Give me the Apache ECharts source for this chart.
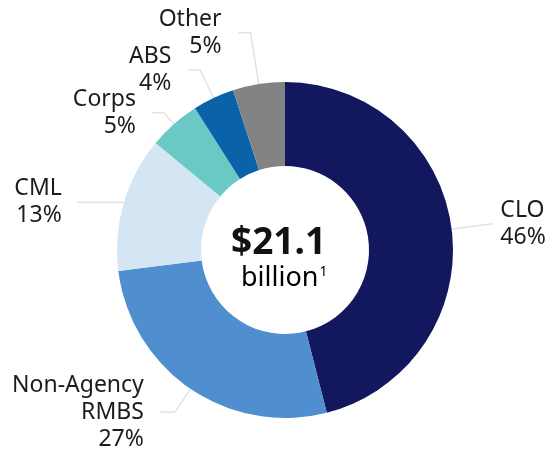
<!DOCTYPE html>
<html>
<head>
<meta charset="utf-8">
<script src="https://cdn.jsdelivr.net/npm/echarts@6/dist/echarts.min.js"></script>
<style>
  html, body { margin: 0; padding: 0; background: #fff; }
  #main { width: 553px; height: 451px; }
</style>
</head>
<body>
<div id="main"></div>
<script>
// 数据
var categories = ['CLO', 'Non-Agency\nRMBS', 'CML', 'Corps', 'ABS', 'Other'];
var values = [46, 27, 13, 5, 4, 5];
var colors = ['#12175e', '#4f8fd0', '#d4e6f4', '#6bc9c5', '#0a63a9', '#838383'];
// 引导线长度 [length, length2]
var lineLens = [[39, 3], [28, 15], [3, 44], [15, 12], [31, 12], [52, 12]];
var labelGaps = [7, 16, 15, 16, 17, 17];

var chart = echarts.init(document.getElementById('main'));

var seriesData = [];
for (var i = 0; i < categories.length; i++) {
    seriesData.push({
        name: categories[i],
        value: values[i],
        itemStyle: { color: colors[i] },
        labelLine: { length: lineLens[i][0], length2: lineLens[i][1] },
        label: { distanceToLabelLine: labelGaps[i] }
    });
}

var option = {
    animation: false,
    graphic: [
        {
            type: 'text',
            left: 231,
            top: 225,
            style: {
                text: '$21.1',
                font: 'bold 37px "Noto Sans", sans-serif',
                fill: '#111'
            }
        },
        {
            type: 'text',
            left: 241,
            top: 265,
            style: {
                text: '{b|billion}{s|1}',
                rich: {
                    b: { fontSize: 27, fontFamily: '"Noto Sans", sans-serif', color: '#111' },
                    s: { fontSize: 14, fontFamily: '"Noto Sans", sans-serif', color: '#111', verticalAlign: 'top', padding: [0, 0, 12, 1] }
                }
            }
        }
    ],
    series: [{
        type: 'pie',
        center: [285, 250],
        radius: [84, 168],
        startAngle: 90,
        clockwise: true,
        avoidLabelOverlap: false,
        labelLayout: { hideOverlap: false },
        data: seriesData,
        label: {
            show: true,
            formatter: function (p) { return p.name + '\n' + p.value + '%'; },
            fontFamily: '"Noto Sans", sans-serif',
            fontSize: 23,
            lineHeight: 27,
            color: '#1c1c1c'
        },
        labelLine: {
            show: true,
            lineStyle: { color: '#e2e2e2', width: 1.5 }
        },
        emphasis: { disabled: true }
    }]
};

chart.setOption(option);
</script>
</body>
</html>
